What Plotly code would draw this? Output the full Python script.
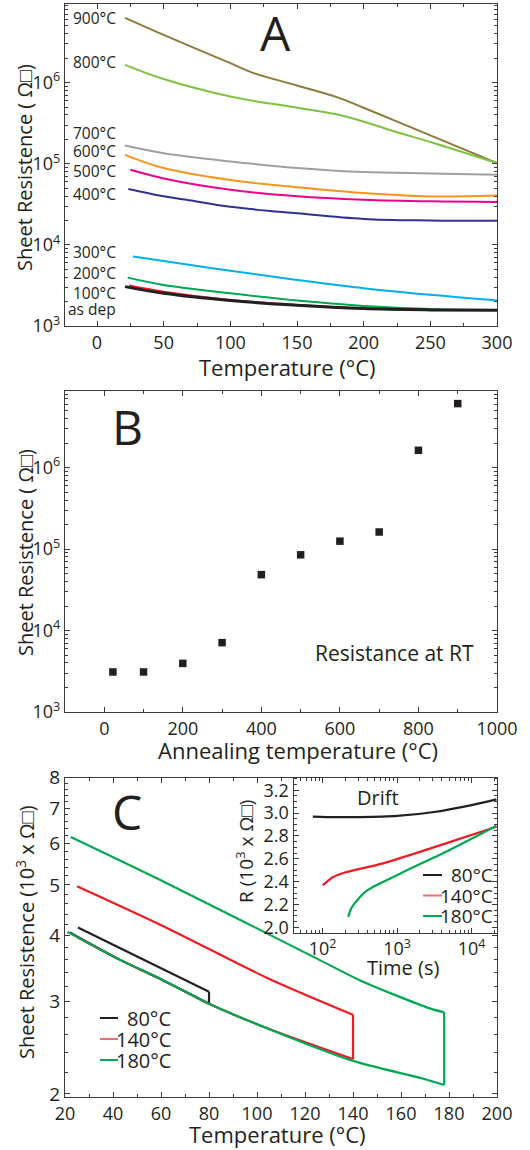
import math
import plotly.graph_objects as go

FONT = "Open Sans"
TXT = "#231F20"

# ---------------- Panel A: sheet resistance vs measurement temperature ----------------
t_900 = [21, 50, 100, 117, 150, 182, 200, 250, 300]
r_900 = [6.31e6, 3.89e6, 1.74e6, 1.32e6, 9.25e5, 6.46e5, 4.90e5, 2.24e5, 1.02e5]
t_800 = [21, 50, 100, 150, 185, 227, 250, 300]
r_800 = [1.66e6, 1.11e6, 6.76e5, 4.90e5, 3.89e5, 2.40e5, 1.86e5, 1.02e5]
t_700 = [21, 50, 100, 150, 200, 250, 300]
r_700 = [1.68e5, 1.35e5, 1.07e5, 8.9e4, 7.9e4, 7.6e4, 7.3e4]
t_600 = [21, 50, 100, 150, 200, 250, 300]
r_600 = [1.29e5, 8.85e4, 6.3e4, 5.15e4, 4.35e4, 3.95e4, 4.06e4]
t_500 = [25, 50, 100, 150, 200, 250, 300]
r_500 = [8.43e4, 6.6e4, 4.79e4, 3.98e4, 3.6e4, 3.44e4, 3.39e4]
t_400 = [23.5, 50, 67, 100, 150, 200, 250, 300]
r_400 = [4.9e4, 3.98e4, 3.6e4, 2.95e4, 2.45e4, 2.09e4, 2.0e4, 1.98e4]
t_300 = [27, 50, 100, 150, 200, 250, 300]
r_300 = [7.18e3, 6.31e3, 4.79e3, 3.70e3, 2.92e3, 2.42e3, 2.06e3]
t_200 = [23, 50, 100, 150, 200, 250, 300]
r_200 = [3.95e3, 3.21e3, 2.53e3, 2.06e3, 1.77e3, 1.62e3, 1.58e3]
t_100 = [24, 50, 100, 150, 200, 250, 300]
r_100 = [3.15e3, 2.65e3, 2.09e3, 1.82e3, 1.65e3, 1.58e3, 1.57e3]
t_dep = [21, 50, 100, 150, 200, 250, 300]
r_dep = [3.06e3, 2.53e3, 2.06e3, 1.80e3, 1.64e3, 1.58e3, 1.56e3]

a_names = ["900°C", "800°C", "700°C", "600°C", "500°C", "400°C", "300°C", "200°C", "100°C", "as dep"]
a_colors = ["#8D7B3B", "#7DC242", "#9D9FA2", "#F7941D", "#EC008C", "#2E3192",
            "#00AEEF", "#00A651", "#ED1C24", "#231F20"]
a_t = [t_900, t_800, t_700, t_600, t_500, t_400, t_300, t_200, t_100, t_dep]
a_r = [r_900, r_800, r_700, r_600, r_500, r_400, r_300, r_200, r_100, r_dep]
a_label_r = [6.3e6, 1.82e6, 2.42e5, 1.45e5, 8.2e4, 4.27e4, 8.2e3, 4.5e3, 2.55e3, 1.62e3]

# ---------------- Panel B: resistance at RT vs annealing temperature ----------------
b_anneal = [22, 100, 200, 300, 400, 500, 600, 700, 800, 900]
b_res = [3.1e3, 3.1e3, 3.95e3, 7.1e3, 4.85e4, 8.5e4, 1.25e5, 1.62e5, 1.63e6, 6.1e6]

# ---------------- Panel C: heating -> hold -> cooling (10^3 ohm/sq) ----------------
heat_t_80 = [22, 43, 61, 80]
heat_r_80 = [4.06, 3.60, 3.29, 2.97]
cool_t_80 = [80, 25.4]
cool_r_80 = [3.13, 4.15]
heat_t_140 = [25, 43, 61, 80, 104, 140]
heat_r_140 = [3.98, 3.60, 3.29, 2.97, 2.67, 2.33]
cool_t_140 = [140, 104, 62, 25]
cool_r_140 = [2.83, 3.33, 4.15, 4.97]
heat_t_180 = [21, 43, 61, 80, 104, 139, 169, 178]
heat_r_180 = [4.07, 3.60, 3.29, 2.97, 2.67, 2.32, 2.14, 2.08]
cool_t_180 = [178, 172, 143, 126, 62, 22.4]
cool_r_180 = [2.86, 2.91, 3.29, 3.60, 5.05, 6.17]
c_names = ["80°C", "140°C", "180°C"]
c_colors = ["#231F20", "#ED1C24", "#00A651"]
c_legend_colors = ["#231F20", "#F26D6F", "#00A651"]

# ---------------- Inset: drift at constant temperature ----------------
t_d80 = [74, 150, 316, 1000, 3162, 10000, 21500]
r_d80 = [2.97, 2.965, 2.965, 2.975, 3.01, 3.07, 3.12]
t_d140 = [100, 110, 138, 200, 646, 3090, 21500]
r_d140 = [2.37, 2.39, 2.44, 2.48, 2.56, 2.70, 2.88]
t_d180 = [221, 240, 269, 389, 1096, 5129, 21500]
r_d180 = [2.09, 2.16, 2.21, 2.32, 2.47, 2.68, 2.89]

fig = go.Figure()

for t, r, c, n in zip(a_t, a_r, a_colors, a_names):
    fig.add_trace(go.Scatter(x=t, y=r, mode="lines",
                             line=dict(color=c, width=3 if n == "as dep" else 2, shape="spline", smoothing=1.0),
                             showlegend=False, xaxis="x", yaxis="y", name=n))

fig.add_trace(go.Scatter(x=b_anneal, y=b_res, mode="markers",
                         marker=dict(symbol="square", size=7.5, color="#231F20"),
                         showlegend=False, xaxis="x2", yaxis="y2"))

c_heat_t = [heat_t_80, heat_t_140, heat_t_180]
c_heat_r = [heat_r_80, heat_r_140, heat_r_180]
c_cool_t = [cool_t_80, cool_t_140, cool_t_180]
c_cool_r = [cool_r_80, cool_r_140, cool_r_180]
for ht, hr, ct, cr, c in zip(c_heat_t, c_heat_r, c_cool_t, c_cool_r, c_colors):
    sty = dict(color=c, width=2.2, shape="spline", smoothing=0.8)
    fig.add_trace(go.Scatter(x=ht, y=hr, mode="lines", line=sty, showlegend=False, xaxis="x3", yaxis="y3"))
    fig.add_trace(go.Scatter(x=[ht[-1], ct[0]], y=[hr[-1], cr[0]], mode="lines", line=dict(color=c, width=2.2),
                             showlegend=False, xaxis="x3", yaxis="y3"))
    fig.add_trace(go.Scatter(x=ct, y=cr, mode="lines", line=sty, showlegend=False, xaxis="x3", yaxis="y3"))

for t, r, c in zip([t_d80, t_d140, t_d180], [r_d80, r_d140, r_d180], c_colors):
    fig.add_trace(go.Scatter(x=t, y=r, mode="lines", line=dict(color=c, width=2.2, shape="spline", smoothing=0.8),
                             showlegend=False, xaxis="x4", yaxis="y4"))

W, H = 530, 1150
def px(v):
    return v / W
def py(v):
    return 1 - v / H

axstyle = dict(showline=True, linecolor="#3a3a3a", linewidth=1.2, mirror="allticks", ticks="inside",
               ticklen=5, tickwidth=1, tickcolor="#3a3a3a", showgrid=False, zeroline=False, automargin=False,
               tickfont=dict(family=FONT, size=18, color=TXT))

def minor_log(lo_exp, hi_exp):
    return [m * 10 ** e for e in range(lo_exp, hi_exp + 1) for m in range(2, 10)]

sup = ["10<sup>3</sup>", "10<sup>4</sup>", "10<sup>5</sup>", "10<sup>6</sup>"]
decades = [1e3, 1e4, 1e5, 1e6]
xdom = [px(65), px(497)]
mn = dict(ticks="inside", ticklen=3, tickcolor="#3a3a3a")

fig.update_layout(
    width=W, height=H, margin=dict(l=0, r=0, t=0, b=0, autoexpand=False),
    paper_bgcolor="white", plot_bgcolor="white", showlegend=False,
    font=dict(family=FONT, color=TXT),
    xaxis=dict(axstyle, domain=xdom, anchor="y", range=[-24, 300], tick0=0, dtick=50,
               minor=dict(mn, dtick=25)),
    yaxis=dict(axstyle, domain=[py(326), py(4)], anchor="x", type="log", range=[3, 6.97],
               tickvals=decades, ticktext=sup, minor=dict(mn, tickvals=minor_log(3, 6))),
    xaxis2=dict(axstyle, domain=xdom, anchor="y2", range=[-100, 1000], tick0=0, dtick=200,
                minor=dict(mn, dtick=100)),
    yaxis2=dict(axstyle, domain=[py(712), py(391)], anchor="x2", type="log", range=[3, 6.94],
                tickvals=decades, ticktext=sup, minor=dict(mn, tickvals=minor_log(3, 6))),
    xaxis3=dict(axstyle, domain=xdom, anchor="y3", range=[20, 200], tick0=20, dtick=20,
                minor=dict(mn, dtick=10)),
    yaxis3=dict(axstyle, domain=[py(1097.3), py(777.7)], anchor="x3", type="log",
                range=[math.log10(1.971), math.log10(8.0)],
                tickvals=[2, 3, 4, 5, 6, 7, 8], ticktext=["2", "3", "4", "5", "6", "7", "8"],
                tickfont=dict(family=FONT, size=19, color=TXT),
                minor=dict(mn, tickvals=[v / 10 for v in range(20, 80, 2) if v % 10])),
    xaxis4=dict(axstyle, domain=[px(293.5), px(497)], anchor="y4", type="log", range=[1.61, 4.34],
                tickvals=[1e2, 1e3, 1e4], ticktext=["10<sup>2</sup>", "10<sup>3</sup>", "10<sup>4</sup>"],
                minor=dict(mn, tickvals=minor_log(1, 4))),
    yaxis4=dict(axstyle, domain=[py(932.7), py(777.7)], anchor="x4", range=[1.953, 3.31],
                tick0=2.0, dtick=0.2, tickformat=".1f", minor=dict(mn, dtick=0.05)),
)

ann = []
for n, yv in zip(a_names, a_label_r):
    ann.append(dict(x=16, y=math.log10(yv), xref="x", yref="y", text=n, showarrow=False,
                    xanchor="right", yanchor="middle", font=dict(family=FONT, size=15.5, color=TXT)))

def txt(x, y, s, size, angle=0, anchor="center"):
    ann.append(dict(x=px(x), y=py(y), xref="paper", yref="paper", text=s, showarrow=False,
                    xanchor=anchor, yanchor="middle", textangle=angle,
                    font=dict(family=FONT, size=size, color=TXT)))

txt(275, 32, "A", 48)
txt(127.5, 427, "B", 48)
txt(126.7, 811, "C", 48)
txt(25, 168, "Sheet Resistence ( Ω\u25a1)", 20, -90)
txt(287, 367, "Temperature (°C)", 22)
txt(25, 553, "Sheet Resistence ( Ω\u25a1)", 20, -90)
txt(298, 750, "Annealing temperature (°C)", 22)
txt(395, 653, "Resistance at RT", 21)
txt(25, 932, "Sheet Resistence (10<sup>3</sup> x Ω\u25a1)", 20, -90)
txt(277, 1134, "Temperature (°C)", 22)
txt(245, 852, "R (10<sup>3</sup> x Ω\u25a1)", 19, -90)
txt(402.5, 967, "Time (s)", 20)
txt(378, 797, "Drift", 20)

# legend keys (main panel C and inset)
shapes = []
for i, (n, lc) in enumerate(zip(c_names, c_legend_colors)):
    for (x0, x1, xt, y0, dy, fs) in [(100, 118, 173, 1018, 21, 20), (423, 442, 495, 875, 20.5, 19)]:
        yy = y0 + i * dy
        shapes.append(dict(type="line", xref="paper", yref="paper", x0=px(x0), x1=px(x1), y0=py(yy), y1=py(yy),
                           line=dict(color=lc, width=2)))
        txt(xt, yy, n, fs, 0, "right")

fig.update_layout(annotations=ann, shapes=shapes)
fig.write_html("out.html", config={"displayModeBar": False},
               post_script="document.body.style.margin='0';document.body.style.padding='0';")
